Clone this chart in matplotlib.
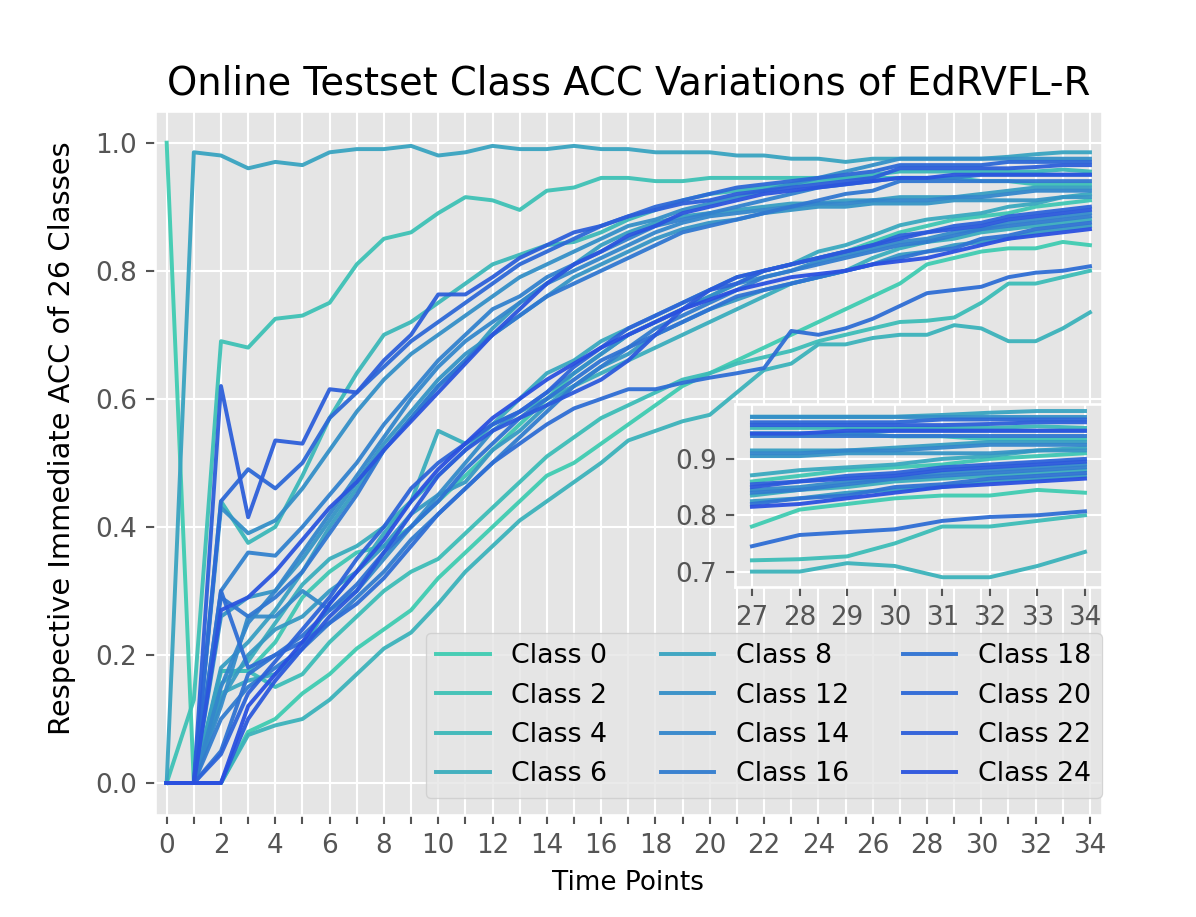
import matplotlib
matplotlib.use("Agg")
import matplotlib.pyplot as plt
import numpy as np

plt.style.use("ggplot")

time_points = list(range(35))
inset_start = 27
class_ids = list(range(26))
legend_classes = [0, 2, 4, 6, 8, 12, 14, 16, 18, 20, 22, 24]

acc = {
    0: [1.0, 0, 0.0, 0.08, 0.10, 0.14, 0.17, 0.21, 0.24, 0.27, 0.32, 0.36, 0.40, 0.44, 0.48, 0.50, 0.53, 0.56, 0.59, 0.62, 0.64, 0.66, 0.68, 0.70, 0.72, 0.74, 0.76, 0.78, 0.81, 0.82, 0.83, 0.835, 0.835, 0.845, 0.84],
    1: [0, 0, 0.175, 0.175, 0.22, 0.29, 0.33, 0.36, 0.37, 0.40, 0.44, 0.48, 0.52, 0.56, 0.60, 0.64, 0.67, 0.70, 0.72, 0.74, 0.76, 0.78, 0.80, 0.81, 0.82, 0.83, 0.845, 0.86, 0.87, 0.88, 0.885, 0.89, 0.90, 0.905, 0.91],
    2: [0, 0.13, 0.69, 0.68, 0.725, 0.73, 0.75, 0.81, 0.85, 0.86, 0.89, 0.915, 0.91, 0.895, 0.925, 0.93, 0.945, 0.945, 0.94, 0.94, 0.945, 0.945, 0.945, 0.945, 0.945, 0.945, 0.945, 0.945, 0.945, 0.945, 0.94, 0.94, 0.935, 0.935, 0.935],
    3: [0, 0, 0.175, 0.175, 0.15, 0.17, 0.22, 0.26, 0.30, 0.33, 0.35, 0.39, 0.43, 0.47, 0.51, 0.54, 0.57, 0.59, 0.61, 0.63, 0.64, 0.655, 0.665, 0.675, 0.69, 0.70, 0.71, 0.72, 0.722, 0.727, 0.75, 0.78, 0.78, 0.79, 0.80],
    4: [0, 0, 0.44, 0.375, 0.40, 0.48, 0.57, 0.64, 0.70, 0.72, 0.75, 0.78, 0.81, 0.825, 0.84, 0.845, 0.86, 0.88, 0.895, 0.91, 0.92, 0.925, 0.93, 0.935, 0.94, 0.945, 0.95, 0.955, 0.955, 0.955, 0.955, 0.955, 0.955, 0.958, 0.955],
    5: [0, 0, 0.0, 0.075, 0.09, 0.10, 0.13, 0.17, 0.21, 0.235, 0.28, 0.33, 0.37, 0.41, 0.44, 0.47, 0.50, 0.535, 0.55, 0.565, 0.575, 0.61, 0.645, 0.655, 0.685, 0.685, 0.695, 0.70, 0.70, 0.715, 0.71, 0.69, 0.69, 0.71, 0.735],
    6: [0, 0, 0.155, 0.19, 0.25, 0.31, 0.35, 0.37, 0.40, 0.44, 0.55, 0.53, 0.56, 0.58, 0.60, 0.62, 0.64, 0.66, 0.68, 0.70, 0.72, 0.74, 0.76, 0.78, 0.79, 0.80, 0.82, 0.835, 0.845, 0.85, 0.86, 0.865, 0.87, 0.875, 0.88],
    7: [0, 0, 0.14, 0.16, 0.17, 0.21, 0.28, 0.33, 0.39, 0.44, 0.48, 0.52, 0.56, 0.60, 0.64, 0.66, 0.69, 0.71, 0.73, 0.75, 0.77, 0.79, 0.80, 0.81, 0.83, 0.84, 0.855, 0.871, 0.88, 0.885, 0.89, 0.90, 0.905, 0.915, 0.92],
    8: [0, 0.985, 0.98, 0.96, 0.97, 0.965, 0.985, 0.99, 0.99, 0.995, 0.98, 0.985, 0.995, 0.99, 0.99, 0.995, 0.99, 0.99, 0.985, 0.985, 0.985, 0.98, 0.98, 0.975, 0.975, 0.97, 0.975, 0.975, 0.975, 0.975, 0.975, 0.978, 0.982, 0.985, 0.985],
    9: [0, 0, 0.18, 0.22, 0.27, 0.33, 0.40, 0.46, 0.52, 0.57, 0.62, 0.66, 0.71, 0.75, 0.78, 0.81, 0.84, 0.86, 0.875, 0.885, 0.89, 0.895, 0.90, 0.905, 0.905, 0.91, 0.91, 0.915, 0.915, 0.915, 0.92, 0.925, 0.93, 0.93, 0.93],
    10: [0, 0, 0.13, 0.20, 0.24, 0.26, 0.30, 0.33, 0.37, 0.42, 0.45, 0.47, 0.52, 0.55, 0.59, 0.62, 0.65, 0.67, 0.70, 0.72, 0.74, 0.755, 0.77, 0.78, 0.79, 0.80, 0.81, 0.825, 0.83, 0.84, 0.845, 0.85, 0.86, 0.865, 0.87],
    11: [0, 0, 0.26, 0.29, 0.30, 0.35, 0.41, 0.47, 0.53, 0.58, 0.63, 0.67, 0.70, 0.73, 0.76, 0.79, 0.81, 0.83, 0.85, 0.865, 0.875, 0.88, 0.89, 0.895, 0.90, 0.90, 0.905, 0.905, 0.905, 0.91, 0.91, 0.91, 0.91, 0.915, 0.915],
    12: [0, 0, 0.43, 0.39, 0.41, 0.46, 0.52, 0.58, 0.63, 0.67, 0.70, 0.73, 0.76, 0.79, 0.81, 0.83, 0.85, 0.87, 0.88, 0.895, 0.905, 0.915, 0.925, 0.935, 0.945, 0.955, 0.965, 0.975, 0.975, 0.975, 0.975, 0.975, 0.975, 0.975, 0.975],
    13: [0, 0, 0.12, 0.26, 0.26, 0.30, 0.27, 0.30, 0.35, 0.40, 0.45, 0.50, 0.55, 0.58, 0.61, 0.64, 0.67, 0.70, 0.72, 0.74, 0.76, 0.78, 0.79, 0.80, 0.815, 0.825, 0.835, 0.845, 0.85, 0.86, 0.865, 0.875, 0.88, 0.885, 0.89],
    14: [0, 0, 0.15, 0.25, 0.30, 0.36, 0.42, 0.48, 0.54, 0.60, 0.65, 0.69, 0.72, 0.75, 0.78, 0.80, 0.82, 0.84, 0.86, 0.875, 0.885, 0.89, 0.895, 0.90, 0.905, 0.905, 0.91, 0.91, 0.91, 0.915, 0.915, 0.92, 0.925, 0.925, 0.925],
    15: [0, 0, 0.30, 0.36, 0.355, 0.40, 0.45, 0.50, 0.56, 0.61, 0.66, 0.70, 0.74, 0.76, 0.79, 0.81, 0.83, 0.85, 0.87, 0.88, 0.89, 0.90, 0.91, 0.92, 0.93, 0.935, 0.94, 0.945, 0.945, 0.945, 0.95, 0.95, 0.95, 0.95, 0.95],
    16: [0, 0, 0.10, 0.15, 0.18, 0.21, 0.25, 0.29, 0.33, 0.38, 0.42, 0.46, 0.50, 0.54, 0.58, 0.62, 0.65, 0.68, 0.71, 0.73, 0.75, 0.77, 0.79, 0.80, 0.81, 0.82, 0.83, 0.84, 0.845, 0.855, 0.865, 0.87, 0.875, 0.88, 0.885],
    17: [0, 0, 0.29, 0.26, 0.29, 0.33, 0.39, 0.45, 0.52, 0.57, 0.62, 0.66, 0.70, 0.73, 0.76, 0.78, 0.80, 0.82, 0.84, 0.86, 0.87, 0.88, 0.89, 0.90, 0.91, 0.92, 0.925, 0.94, 0.94, 0.94, 0.94, 0.94, 0.94, 0.94, 0.94],
    18: [0, 0, 0.05, 0.17, 0.20, 0.23, 0.27, 0.31, 0.36, 0.40, 0.44, 0.49, 0.53, 0.57, 0.60, 0.63, 0.66, 0.68, 0.70, 0.72, 0.74, 0.76, 0.77, 0.78, 0.79, 0.80, 0.81, 0.82, 0.83, 0.835, 0.85, 0.855, 0.865, 0.87, 0.875],
    19: [0, 0, 0.30, 0.18, 0.20, 0.22, 0.25, 0.28, 0.32, 0.37, 0.42, 0.46, 0.50, 0.53, 0.56, 0.585, 0.60, 0.615, 0.615, 0.625, 0.633, 0.64, 0.648, 0.706, 0.70, 0.71, 0.725, 0.745, 0.765, 0.77, 0.775, 0.79, 0.797, 0.80, 0.807],
    20: [0, 0, 0.44, 0.49, 0.46, 0.50, 0.57, 0.61, 0.65, 0.69, 0.72, 0.75, 0.78, 0.81, 0.83, 0.85, 0.87, 0.885, 0.90, 0.91, 0.92, 0.93, 0.935, 0.94, 0.945, 0.95, 0.955, 0.965, 0.965, 0.965, 0.965, 0.97, 0.97, 0.97, 0.97],
    21: [0, 0, 0.045, 0.14, 0.19, 0.24, 0.29, 0.35, 0.40, 0.46, 0.50, 0.53, 0.56, 0.58, 0.61, 0.65, 0.68, 0.71, 0.73, 0.75, 0.77, 0.78, 0.80, 0.81, 0.82, 0.83, 0.84, 0.855, 0.86, 0.87, 0.875, 0.885, 0.89, 0.895, 0.90],
    22: [0, 0, 0.62, 0.415, 0.535, 0.53, 0.615, 0.61, 0.66, 0.70, 0.763, 0.763, 0.79, 0.82, 0.84, 0.86, 0.87, 0.885, 0.895, 0.905, 0.91, 0.92, 0.925, 0.93, 0.935, 0.94, 0.945, 0.96, 0.96, 0.96, 0.96, 0.96, 0.962, 0.965, 0.965],
    23: [0, 0, 0.0, 0.10, 0.16, 0.21, 0.26, 0.30, 0.36, 0.42, 0.48, 0.52, 0.55, 0.57, 0.59, 0.61, 0.63, 0.66, 0.70, 0.74, 0.77, 0.79, 0.80, 0.81, 0.82, 0.83, 0.84, 0.85, 0.86, 0.865, 0.87, 0.88, 0.885, 0.89, 0.895],
    24: [0, 0, 0.27, 0.29, 0.33, 0.38, 0.43, 0.47, 0.52, 0.565, 0.61, 0.655, 0.70, 0.74, 0.78, 0.81, 0.83, 0.855, 0.87, 0.89, 0.90, 0.91, 0.92, 0.925, 0.93, 0.935, 0.94, 0.945, 0.945, 0.95, 0.95, 0.95, 0.95, 0.95, 0.95],
    25: [0, 0, 0.0, 0.12, 0.17, 0.22, 0.28, 0.33, 0.38, 0.44, 0.49, 0.53, 0.57, 0.60, 0.63, 0.655, 0.68, 0.70, 0.72, 0.74, 0.755, 0.77, 0.78, 0.79, 0.795, 0.80, 0.81, 0.815, 0.82, 0.83, 0.84, 0.85, 0.855, 0.86, 0.865],
}

c_start = np.array([0x40, 0xCC, 0xB2]) / 255.0
c_end = np.array([0x2A, 0x50, 0xE0]) / 255.0


def class_color(i):
    t = i / (len(class_ids) - 1)
    return tuple(c_start * (1 - t) + c_end * t)


DPI = 189
fig = plt.figure(figsize=(1196 / DPI, 917 / DPI), dpi=DPI)
ax = fig.add_axes([0.1296, 0.1112, 0.7915, 0.7681])

for c in class_ids:
    lab = f"Class {c}" if c in legend_classes else "_nolegend_"
    ax.plot(time_points, acc[c], color=class_color(c), lw=1.5, alpha=0.95, label=lab)

ax.set_xlim(-0.43, 34.43)
ax.set_xticks(time_points)
ax.set_xticklabels([str(t) if t % 2 == 0 else "" for t in time_points])
ax.tick_params(labelsize=10, colors="#555555")
ax.set_title("Online Testset Class ACC Variations of EdRVFL-R", fontsize=14.7, color="black")
ax.set_xlabel("Time Points", fontsize=10, color="black")
ax.set_ylabel("Respective Immediate ACC of 26 Classes", fontsize=11, color="black")
ax.yaxis.set_label_coords(-0.083, 0.535)

ax.legend(loc="lower right", bbox_to_anchor=(1.0, 0.024), borderaxespad=0.0,
          ncol=3, fontsize=10.2)

axin = ax.inset_axes([0.613, 0.324, 0.387, 0.26])
sub = time_points[inset_start:]
for c in class_ids:
    axin.plot(sub, acc[c][inset_start:], color=class_color(c), lw=1.5, alpha=0.95)
axin.set_xticks(sub)
axin.set_yticks([0.7, 0.8, 0.9])
axin.set_ylim(0.673, 0.998)
axin.tick_params(labelsize=10, colors="#555555")

fig.savefig("out.png", dpi=DPI)
